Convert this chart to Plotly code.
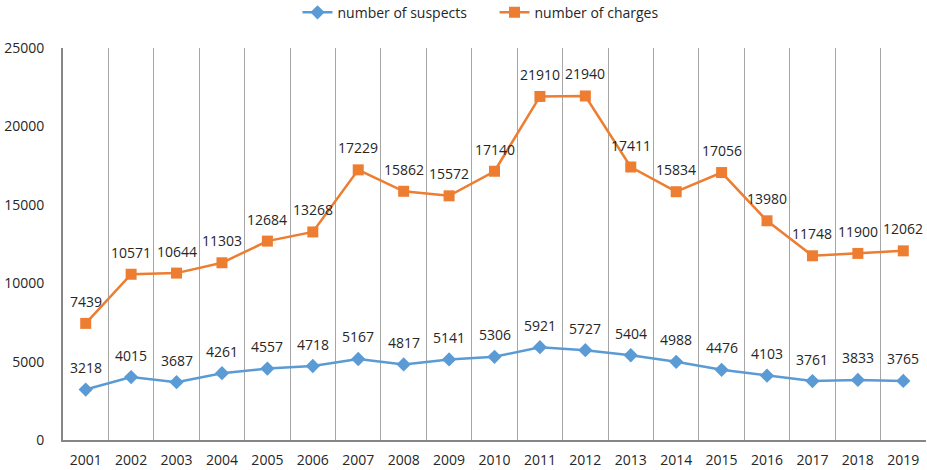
import plotly.graph_objects as go

years = [str(y) for y in range(2001, 2020)]
suspects = [3218, 4015, 3687, 4261, 4557, 4718, 5167, 4817, 5141, 5306, 5921, 5727, 5404, 4988, 4476, 4103, 3761, 3833, 3765]
charges = [7439, 10571, 10644, 11303, 12684, 13268, 17229, 15862, 15572, 17140, 21910, 21940, 17411, 15834, 17056, 13980, 11748, 11900, 12062]

FONT = "Open Sans"
TXT = "#262626"

fig = go.Figure()
fig.add_trace(go.Scatter(
    x=years, y=suspects, name="number of suspects", mode="lines+markers",
    line=dict(color="#5B9BD5", width=2.5),
    marker=dict(symbol="diamond", size=11, color="#5B9BD5"),
))
fig.add_trace(go.Scatter(
    x=years, y=charges, name="number of charges", mode="lines+markers",
    line=dict(color="#ED7D31", width=2.5),
    marker=dict(symbol="square", size=11, color="#ED7D31"),
))

annotations = []
for series in (suspects, charges):
    for i, v in enumerate(series):
        annotations.append(dict(x=i, y=v, xref="x", yref="y", text=str(v), showarrow=False,
                                yshift=22, xanchor="center", yanchor="middle",
                                font=dict(family=FONT, size=14, color=TXT)))

fig.update_layout(
    width=927, height=470,
    margin=dict(l=63, r=1, t=48, b=30, autoexpand=False),
    paper_bgcolor="white", plot_bgcolor="white",
    font=dict(family=FONT, size=14, color=TXT),
    showlegend=True,
    annotations=annotations,
    legend=dict(orientation="h", x=0.5, xanchor="center", y=1.09, yanchor="middle",
                entrywidth=152, font=dict(family=FONT, size=14, color=TXT)),
    xaxis=dict(type="category", tickson="boundaries", showgrid=True, gridcolor="#A6A6A6",
               gridwidth=1, showline=True, linecolor="#868686", linewidth=2,
               ticks="", ticklabelstandoff=6, tickfont=dict(family=FONT, size=14, color=TXT),
               range=[-0.5, 18.5], automargin=False),
    yaxis=dict(range=[0, 25000], dtick=5000, tickformat="d", showgrid=False, zeroline=False,
               showline=True, linecolor="#868686", linewidth=2, ticks="",
               ticklabelstandoff=14, tickfont=dict(family=FONT, size=14, color=TXT),
               automargin=False),
)

fig.write_html("out.html", config={"displayModeBar": False},
               post_script="document.body.style.margin='0';document.body.style.padding='0';")
